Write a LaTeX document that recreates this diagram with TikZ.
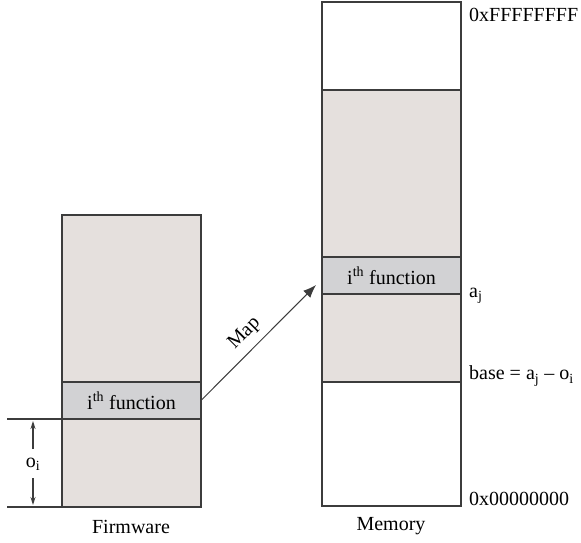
\documentclass[tikz,border=0pt]{standalone}
\usepackage{fontspec}
\setmainfont{Liberation Serif}
\usetikzlibrary{arrows.meta}
\definecolor{blockgray}{RGB}{229,224,221}
\definecolor{fngray}{RGB}{210,210,212}
\definecolor{edgegray}{RGB}{60,60,60}
\begin{document}
\begin{tikzpicture}[x=1pt,y=-1pt,
  blk/.style={draw=edgegray, line width=1.2pt, anchor=north west, minimum width=139pt, inner sep=0pt, outer sep=0pt},
  gblk/.style={blk, fill=blockgray},
  fblk/.style={blk, fill=fngray, font=\fontsize{20}{22}\selectfont},
  wblk/.style={blk, fill=white},
  lbl/.style={font=\fontsize{20}{22}\selectfont, inner sep=0pt},
  thin/.style={draw=edgegray, line width=1.1pt}]
\useasboundingbox (0,0) rectangle (581,542);
% firmware
\node[gblk, minimum height=167pt] (fwtop) at (62,215) {};
\node[fblk, minimum height=37pt] (fwfn) at (62,382) {i\textsuperscript{th} function};
\node[gblk, minimum height=88pt] (fwbot) at (62,419) {};
\node[lbl] (fwlbl) at (131,527) {Firmware};
% memory
\node[wblk, minimum height=88pt] (memtop) at (322,2) {};
\node[gblk, minimum height=167pt] (memg1) at (322,90) {};
\node[fblk, minimum height=37pt] (memfn) at (322,257) {i\textsuperscript{th} function};
\node[gblk, minimum height=88pt] (memg2) at (322,294) {};
\node[wblk, minimum height=124pt] (membot) at (322,382) {};
\node[lbl] (memlbl) at (391,526) {Memory};
% right labels
\node[lbl, anchor=west] (ffff) at (469,15) {0xFFFFFFFF};
\node[lbl, anchor=west] (aj) at (469,296) {a\textsubscript{j}};
\node[lbl, anchor=west] (base) at (469,376) {base = a\textsubscript{j} – o\textsubscript{i}};
\node[lbl, anchor=west] (zero) at (469,499) {0x00000000};
% offset
\coordinate (ltop) at (7,419);
\coordinate (lbot) at (7,507);
\draw[thin] (ltop) -- (fwbot.north west);
\draw[thin] (lbot) -- (fwbot.south west);
\node[lbl] (oi) at (33,464) {o\textsubscript{i}};
\coordinate (uptip) at (33,421);
\coordinate (dntip) at (33,505);
\draw[thin, -{Stealth[length=8pt,width=5pt]}] (33,449) -- (uptip);
\draw[thin, -{Stealth[length=8pt,width=5pt]}] (33,478) -- (dntip);
% map arrow
\coordinate (mapend) at (316,285);
\draw[thin, line width=1pt, -{Latex[length=13pt,width=10pt]}] (fwfn.east) -- (mapend)
  node[lbl, pos=0.48, sloped, above=7pt] {Map};
\end{tikzpicture}
\end{document}
